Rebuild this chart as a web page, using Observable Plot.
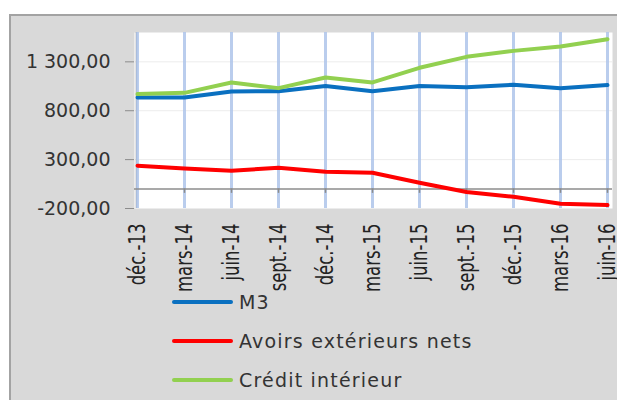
<!DOCTYPE html>
<html>
<head>
<meta charset="utf-8">
<script src="https://cdn.jsdelivr.net/npm/d3@7"></script>
<script src="https://cdn.jsdelivr.net/npm/@observablehq/plot@0.6"></script>
<style>
  html, body { margin: 0; padding: 0; background: #ffffff; width: 617px; height: 400px; overflow: hidden; }
  #wrap { position: relative; width: 617px; height: 400px; }
  #box { position: absolute; left: 9px; top: 14px; width: 640px; height: 420px; background: #d9d9d9;
         border-top: 2px solid #a3a3a3; border-left: 2px solid #a3a3a3; }
  #chart { position: absolute; left: 0; top: 0; }
  .leg { position: absolute; left: 0; top: 0; font-family: "DejaVu Sans", sans-serif; font-size: 19px; color: #333333; letter-spacing: 1.2px; }
  .item { position: absolute; height: 24px; display: flex; align-items: center; white-space: nowrap; }
  .sw { width: 61px; height: 4px; border-radius: 2px; margin-right: 6px; }
</style>
</head>
<body>
<div id="wrap">
  <div id="box"></div>
  <div id="chart"></div>
  <div class="leg" id="legend"></div>
</div>
<script>
const periods = ["déc.-13","mars-14","juin-14","sept.-14","déc.-14","mars-15","juin-15","sept.-15","déc.-15","mars-16","juin-16"];
const m3      = [936, 936, 997, 1000, 1052, 1000, 1052, 1041, 1065, 1031, 1062];
const avoirs  = [237, 210, 186, 217, 176, 166, 63, -32, -80, -151, -165];
const credit  = [970, 983, 1089, 1031, 1140, 1089, 1239, 1351, 1412, 1457, 1532];
const seriesNames = ["M3", "Avoirs extérieurs nets", "Crédit intérieur"];
const seriesColors = ["#0a70c0", "#ff0000", "#92d050"];
const yTicks = [-200, 300, 800, 1300];

const seriesValues = [m3, avoirs, credit];
const rows = [];
seriesValues.forEach((vals, s) => vals.forEach((v, i) => rows.push({period: periods[i], series: seriesNames[s], value: v})));

const loc = d3.formatLocale({decimal: ",", thousands: "\u00a0", grouping: [3], currency: ["", ""], minus: "-"});
const fmt = loc.format(",.2f");

const chart = Plot.plot({
  width: 617,
  height: 400,
  marginLeft: 134,
  marginRight: 5,
  insetRight: 2,
  marginTop: 32,
  marginBottom: 192,
  style: {background: "transparent", fontFamily: "DejaVu Sans, sans-serif"},
  x: {type: "point", domain: periods, padding: 0},
  y: {domain: [-200, 1600]},
  color: {domain: seriesNames, range: seriesColors},
  marks: [
    Plot.frame({fill: "white", stroke: null}),
    Plot.ruleY(yTicks.filter(t => t !== -200), {stroke: "#ececec", strokeWidth: 1}),
    Plot.ruleX(periods.slice(0, 1), {stroke: "#8c8c8c", strokeWidth: 1.5, dx: -1}),
    Plot.ruleX(periods, {stroke: "#aec4ea", strokeWidth: 3, strokeOpacity: 0.85}),
    Plot.ruleY([0], {stroke: "#8c8c8c", strokeWidth: 1.5}),
    Plot.ruleX(periods.slice(1), {y1: 0, y2: -45, stroke: "#8c8c8c", strokeWidth: 1.5}),
    Plot.axisY({ticks: yTicks, tickFormat: fmt, tickSize: 9, tickPadding: 15, stroke: "#8c8c8c",
                fill: "#333333", fontSize: 19, label: null}),
    Plot.axisX({tickSize: 0, tickPadding: 15, tickRotate: -90, fill: "#222222", fontSize: 16.5, label: null}),
    Plot.line(rows, {x: "period", y: "value", stroke: "series", z: "series", strokeWidth: 4,
                     strokeLinejoin: "round", strokeLinecap: "round"})
  ]
});
document.getElementById("chart").appendChild(chart);

// widen the rotated x labels a little, as in the reference
chart.querySelectorAll("text").forEach(t => {
  const tr = t.getAttribute("transform") || "";
  if (tr.includes("rotate(-90")) t.setAttribute("transform", tr + " scale(1,1.35)");
});
chart.querySelectorAll("g").forEach(g => {
  const tr = g.getAttribute("transform") || "";
  if (tr.includes("rotate(-90") && g.querySelector("text")) {
    g.querySelectorAll("text").forEach(t => {
      const tt = t.getAttribute("transform") || "";
      t.setAttribute("transform", tt + " scale(1,1.35)");
    });
  }
});

const legend = document.getElementById("legend");
const legendY = [302, 341, 380];
seriesNames.forEach((name, i) => {
  const it = document.createElement("div");
  it.className = "item";
  it.style.left = "172px";
  it.style.top = (legendY[i] - 12) + "px";
  const sw = document.createElement("div");
  sw.className = "sw";
  sw.style.background = seriesColors[i];
  const tx = document.createElement("span");
  tx.textContent = name;
  it.appendChild(sw);
  it.appendChild(tx);
  legend.appendChild(it);
});
</script>
</body>
</html>
